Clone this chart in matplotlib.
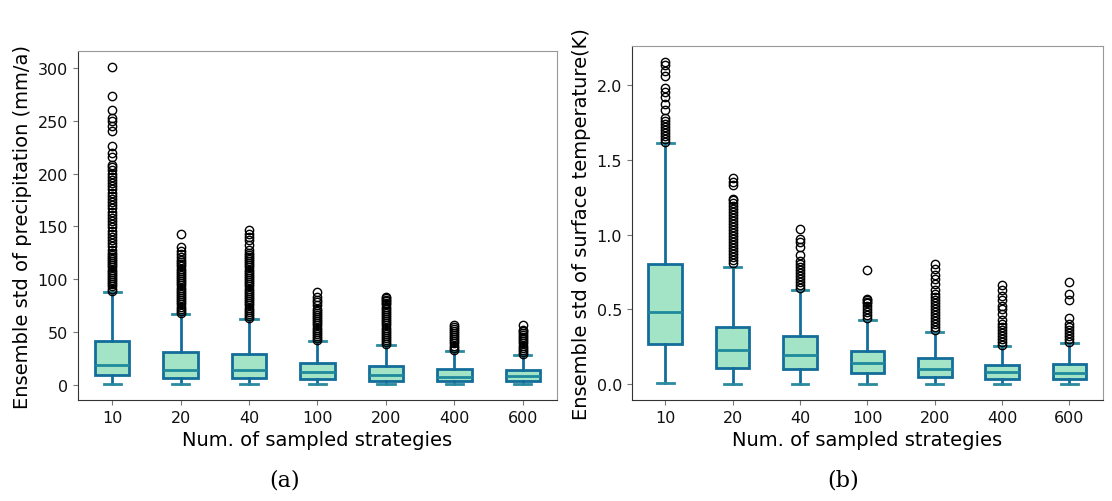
import matplotlib
matplotlib.use("Agg")
import matplotlib.pyplot as plt

# x categories
strategies = ["10", "20", "40", "100", "200", "400", "600"]

# (a) precipitation std (mm/a) - box stats
pr_q1 = [9.5, 6.6, 6.3, 5.0, 3.8, 3.5, 3.8]
pr_med = [19, 14, 14, 12, 9.5, 7.2, 8.2]
pr_q3 = [41, 31, 29, 20.5, 18, 15, 14]
pr_lo = [0.3, 0.3, 0.3, 0.3, 0.3, 0.3, 0.3]
pr_hi = [88, 67, 62, 41.3, 37.5, 32, 27.7]
pr_fliers = [
    [89, 91, 93, 95, 97, 99, 101, 103, 105, 107, 109, 111, 113, 115, 117, 119, 121, 123,
     125, 128, 131, 134, 137, 140, 143, 146, 149, 152, 155, 158, 161, 164, 167, 170, 173,
     176, 179, 182, 185, 188, 191, 194, 197, 200, 203, 206, 208, 216, 220, 226, 240,
     245, 250, 253, 260, 274, 301],
    [68, 70, 72, 74, 76, 78, 80, 82, 84, 86, 88, 90, 92, 94, 96, 98, 100, 102, 104, 106,
     108, 110, 112, 114, 116, 118, 121, 124, 127, 130, 143],
    [63, 65, 67, 69, 71, 73, 75, 77, 79, 81, 83, 85, 87, 89, 91, 93, 95, 97, 99, 101, 103,
     105, 107, 109, 111, 113, 115, 117, 119, 121, 123, 125, 128, 132, 137, 140, 143, 147],
    [42, 44, 46, 48, 50, 52, 54, 56, 58, 60, 62, 64, 66, 68, 70, 72, 75, 78, 80, 83, 88],
    [38, 40, 42, 44, 46, 48, 50, 52, 54, 56, 58, 60, 62, 64, 66, 68, 70, 72, 74, 76, 77,
     79, 80, 82, 83],
    [33, 35, 37, 39, 41, 43, 45, 47, 49, 51, 53, 55, 56],
    [29, 31, 33, 35, 37, 39, 41, 43, 45, 47, 49, 51, 52, 56],
]

# (b) surface temperature std (K)
ts_q1 = [0.267, 0.107, 0.100, 0.078, 0.051, 0.033, 0.033]
ts_med = [0.482, 0.227, 0.193, 0.145, 0.100, 0.082, 0.078]
ts_q3 = [0.805, 0.385, 0.322, 0.222, 0.176, 0.129, 0.133]
ts_lo = [0.007, 0.002, 0.002, 0.002, 0.002, 0.002, 0.002]
ts_hi = [1.61, 0.785, 0.629, 0.429, 0.351, 0.256, 0.273]
ts_fliers = [
    [1.62, 1.64, 1.66, 1.68, 1.70, 1.72, 1.74, 1.76, 1.78, 1.83, 1.87, 1.92, 1.95, 1.98,
     2.06, 2.09, 2.13, 2.15],
    [0.81, 0.83, 0.85, 0.87, 0.89, 0.91, 0.93, 0.95, 0.97, 0.99, 1.01, 1.03, 1.05, 1.07,
     1.09, 1.11, 1.13, 1.15, 1.17, 1.19, 1.21, 1.23, 1.24, 1.33, 1.35, 1.38],
    [0.64, 0.66, 0.68, 0.70, 0.72, 0.74, 0.76, 0.78, 0.80, 0.82, 0.86, 0.92, 0.95, 0.97,
     1.04],
    [0.44, 0.46, 0.48, 0.50, 0.52, 0.54, 0.55, 0.56, 0.57, 0.76],
    [0.36, 0.38, 0.40, 0.42, 0.44, 0.46, 0.48, 0.50, 0.52, 0.54, 0.56, 0.58, 0.60, 0.63,
     0.67, 0.70, 0.73, 0.77, 0.80],
    [0.26, 0.28, 0.30, 0.32, 0.34, 0.36, 0.38, 0.40, 0.43, 0.47, 0.50, 0.52, 0.56, 0.59,
     0.63, 0.66],
    [0.28, 0.30, 0.32, 0.34, 0.36, 0.38, 0.40, 0.44, 0.56, 0.60, 0.68],
]

face = "#a3e4c6"
edge = "#136d9a"
med_c = "#1f8a9c"
cap_c = "#2a8aa0"


def make_stats(q1, med, q3, lo, hi, fliers):
    return [dict(q1=q1[i], med=med[i], q3=q3[i], whislo=lo[i], whishi=hi[i],
                 fliers=fliers[i], label=strategies[i]) for i in range(len(strategies))]


def draw(ax, stats, ylabel):
    ax.bxp(stats, patch_artist=True, widths=0.5,
           boxprops=dict(facecolor=face, edgecolor=edge, linewidth=2),
           medianprops=dict(color=med_c, linewidth=2),
           whiskerprops=dict(color=edge, linewidth=2),
           capprops=dict(color=cap_c, linewidth=2),
           flierprops=dict(marker="o", markerfacecolor="none", markeredgecolor="black",
                           markersize=6, markeredgewidth=1))
    ax.set_xlabel("Num. of sampled strategies", fontsize=14)
    ax.set_ylabel(ylabel, fontsize=14)
    ax.tick_params(labelsize=11.5, color="#777777", labelcolor="#111111")
    for s in ["top", "right"]:
        ax.spines[s].set_color("#999999")
    for s in ["left", "bottom"]:
        ax.spines[s].set_color("#333333")


fig = plt.figure(figsize=(11.12, 5.02), dpi=100)
ax1 = fig.add_axes([0.070, 0.201, 0.431, 0.695])
ax2 = fig.add_axes([0.568, 0.201, 0.424, 0.705])

draw(ax1, make_stats(pr_q1, pr_med, pr_q3, pr_lo, pr_hi, pr_fliers),
     "Ensemble std of precipitation (mm/a)")
draw(ax2, make_stats(ts_q1, ts_med, ts_q3, ts_lo, ts_hi, ts_fliers),
     "Ensemble std of surface temperature(K)")
ax2.set_yticks([0.0, 0.5, 1.0, 1.5, 2.0])

fig.text(0.256, 0.03, "(a)", fontsize=16, family="DejaVu Serif", ha="center")
fig.text(0.758, 0.03, "(b)", fontsize=16, family="DejaVu Serif", ha="center")

fig.savefig("out.png", dpi=100)
